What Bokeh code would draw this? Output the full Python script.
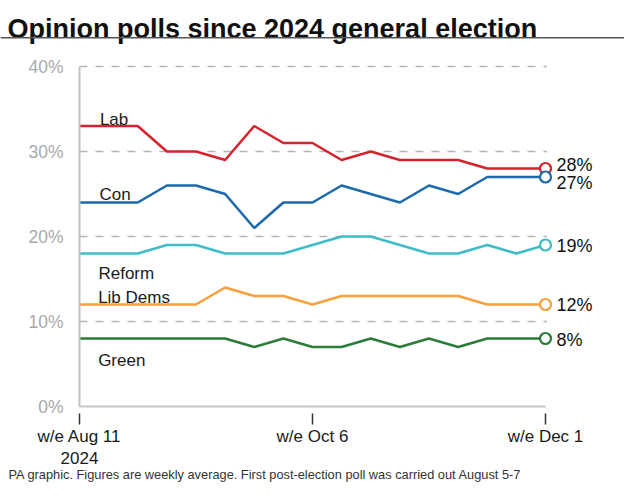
from bokeh.plotting import figure
from bokeh.models import Range1d, FixedTicker, BoxAnnotation
from bokeh.core.properties import value
from bokeh.embed import file_html
from bokeh.resources import INLINE

# ---- data ----
weeks = list(range(17))  # weekly points, w/e Aug 11 .. w/e Dec 1 2024
x_tick_pos = [0, 8, 16]
x_tick_labels = ["w/e Aug 11\n2024", "w/e Oct 6", "w/e Dec 1"]
y_ticks = [0, 10, 20, 30, 40]
y_tick_labels = ["0%", "10%", "20%", "30%", "40%"]

parties = ["Lab", "Con", "Reform", "Lib Dems", "Green"]
lab = [33, 33, 33, 30, 30, 29, 33, 31, 31, 29, 30, 29, 29, 29, 28, 28, 28]
con = [24, 24, 24, 26, 26, 25, 21, 24, 24, 26, 25, 24, 26, 25, 27, 27, 27]
reform = [18, 18, 18, 19, 19, 18, 18, 18, 19, 20, 20, 19, 18, 18, 19, 18, 19]
libdem = [12, 12, 12, 12, 12, 14, 13, 13, 12, 13, 13, 13, 13, 13, 12, 12, 12]
green = [8, 8, 8, 8, 8, 8, 7, 8, 7, 7, 8, 7, 8, 7, 8, 8, 8]
series = [lab, con, reform, libdem, green]

title_text = "Opinion polls since 2024 general election"
footnote_text = "PA graphic. Figures are weekly average. First post-election poll was carried out August 5-7"

# ---- styles / layout ----
colors = ["#d5232e", "#1d6aad", "#3fbcc6", "#f6a13c", "#2a7c3a"]
name_pos = [(0.70, 33.73), (0.69, 24.94), (0.65, 15.61), (0.64, 12.79), (0.64, 5.41)]
end_nudge = [-3.5, 5.5, 1, 0, 1]
FONT = "Liberation Sans"

W, H = 624, 483
X0_PX, Y0_PX = 79, 406          # canvas position of (week 0, 0%)
PX_PER_WEEK, PX_PER_PT = 29.125, 8.5


def dx(px):
    return (px - X0_PX) / PX_PER_WEEK


def dy(py):
    return (Y0_PX - py) / PX_PER_PT


p = figure(width=W, height=H, output_backend="svg", toolbar_location=None,
           title=None,
           x_range=Range1d(dx(0), dx(W)), y_range=Range1d(dy(H), dy(0)),
           min_border=0, min_border_left=0, min_border_right=0,
           min_border_top=0, min_border_bottom=0, outline_line_color=None)
p.xgrid.visible = False
p.ygrid.visible = False

# y axis
p.yaxis.fixed_location = 0
p.yaxis.bounds = (y_ticks[0], y_ticks[-1])
p.yaxis.ticker = FixedTicker(ticks=y_ticks)
p.yaxis.major_label_overrides = dict(zip(y_ticks, y_tick_labels))
p.yaxis.axis_line_color = "#c2c2c2"
p.yaxis.axis_line_width = 2
p.yaxis.major_tick_line_color = None
p.yaxis.minor_tick_line_color = None
p.yaxis.major_label_text_color = "#a9a9a9"
p.yaxis.major_label_text_font = FONT
p.yaxis.major_label_text_font_size = "17.5px"
p.yaxis.major_label_standoff = 10

# x axis
p.xaxis.fixed_location = 0
p.xaxis.bounds = (weeks[0], weeks[-1])
p.xaxis.ticker = FixedTicker(ticks=x_tick_pos)
p.xaxis.major_label_overrides = dict(zip(x_tick_pos, x_tick_labels))
p.xaxis.axis_line_color = None
p.xaxis.major_tick_line_color = "#333333"
p.xaxis.major_tick_line_width = 1.5
p.xaxis.major_tick_in = -7
p.xaxis.major_tick_out = 18
p.xaxis.minor_tick_line_color = None
p.xaxis.major_label_text_color = "#1a1a1a"
p.xaxis.major_label_text_font = FONT
p.xaxis.major_label_text_font_size = "17px"
p.xaxis.major_label_standoff = 2

# gridlines (dashed) and baseline
grid_y = y_ticks[1:]
p.segment(x0=[weeks[0]] * len(grid_y), x1=[weeks[-1] + 0.05] * len(grid_y),
          y0=grid_y, y1=grid_y, line_color="#b5b5b5", line_width=1.5,
          line_dash="8 8")
p.segment(x0=[weeks[0]], x1=[weeks[-1]], y0=[y_ticks[0]], y1=[y_ticks[0]],
          line_color="#c4c4c4", line_width=2)

# series
for name, vals, col, (nx, ny), nud in zip(parties, series, colors, name_pos, end_nudge):
    p.line(weeks, vals, line_color=col, line_width=2.6)
    p.scatter([weeks[-1]], [vals[-1]], marker="circle", size=11,
              fill_color="white", line_color=col, line_width=2.2)
    p.text([nx], [ny], text=[name], text_font=value(FONT), text_font_size="17px",
           text_color="#1a1a1a", text_baseline="alphabetic", text_align="left")
    p.text([weeks[-1]], [vals[-1]], text=[f"{vals[-1]}%"], x_offset=11, y_offset=nud,
           text_font=value(FONT), text_font_size="18px", text_color="#111111",
           text_baseline="middle", text_align="left")

# title, rule, footnote
p.text([dx(7)], [dy(28.3)], text=[title_text], text_font=value(FONT),
       text_font_size="27px", text_font_style="bold", text_color="#111111",
       text_baseline="alphabetic", text_align="left")
p.add_layout(BoxAnnotation(left=dx(0), right=dx(W), top=dy(36.5), bottom=dy(38),
                           fill_color="#555555", fill_alpha=1, line_color=None))
p.text([dx(8)], [dy(474)], text=[footnote_text], text_font=value(FONT),
       text_font_size="12.8px", text_color="#333333",
       text_baseline="alphabetic", text_align="left")

open("out.html", "w").write(file_html(p, INLINE))
